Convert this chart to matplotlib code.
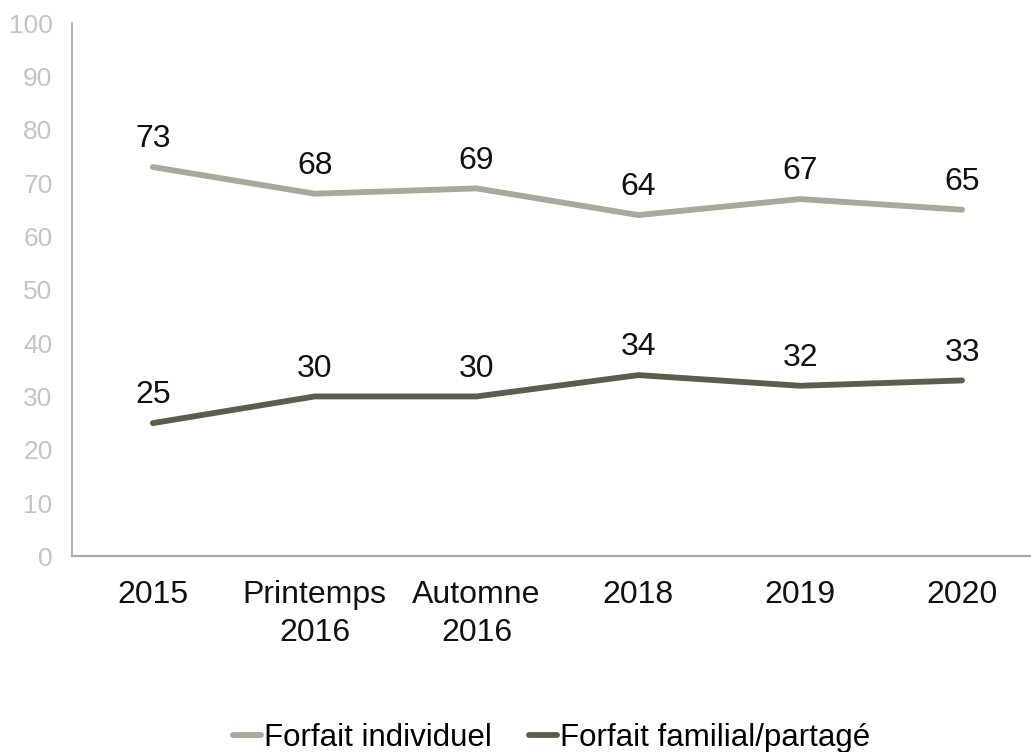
import matplotlib.pyplot as plt

# ── data ─────────────────────────────────────
categories = ["2015", "Printemps\n2016", "Automne\n2016", "2018", "2019", "2020"]
individuel = [73, 68, 69, 64, 67, 65]
familial   = [25, 30, 30, 34, 32, 33]
series_names = ["Forfait individuel", "Forfait familial/partagé"]

COL_LIGHT = "#A6A99B"
COL_DARK  = "#5B5E4F"

plt.rcParams["font.family"] = ["Liberation Sans", "DejaVu Sans"]

fig = plt.figure(figsize=(10.31, 7.52), dpi=100)
ax = fig.add_axes([0.0698, 0.26, 0.9302, 0.7094])

x = list(range(len(categories)))
ax.plot(x, individuel, color=COL_LIGHT, lw=4.2, solid_capstyle="round",
        label=series_names[0])
ax.plot(x, familial, color=COL_DARK, lw=4.2, solid_capstyle="round",
        label=series_names[1])

# value labels above each point
for vals in (individuel, familial):
    for xi, v in zip(x, vals):
        ax.annotate(str(v), (xi, v), xytext=(0, 20), textcoords="offset points",
                    ha="center", va="center", fontsize=23, color="#111111")

ax.set_ylim(0, 100)
ax.set_yticks(range(0, 101, 10))
ax.set_xlim(-0.5, 5.426)
ax.set_xticks(x)
ax.set_xticklabels(categories, fontsize=23, color="#111111", linespacing=1.35)
ax.tick_params(axis="x", length=0, pad=17)
ax.tick_params(axis="y", length=0, pad=14, labelsize=19, labelcolor="#C4C4C4")

for side in ["top", "right"]:
    ax.spines[side].set_visible(False)
ax.spines["left"].set_color("#9A9A9A")
ax.spines["bottom"].set_color("#A8A8A8")
ax.spines["left"].set_linewidth(1.1)
ax.spines["bottom"].set_linewidth(1.6)

fig.legend(loc="center", bbox_to_anchor=(0.535, 1 - 738 / 752), ncol=2,
           frameon=False, fontsize=22.5, handlelength=0.9, handletextpad=0.1,
           columnspacing=1.2)

fig.savefig("out.png", dpi=100)
